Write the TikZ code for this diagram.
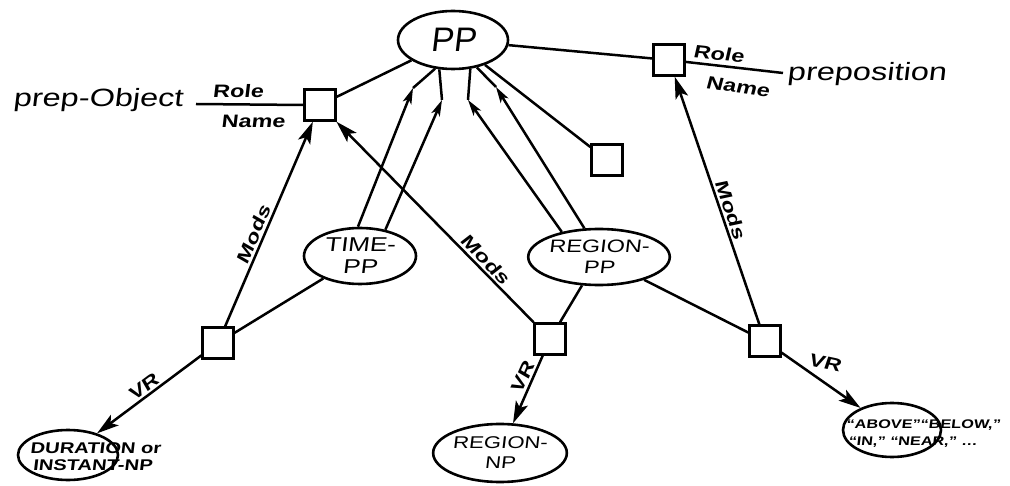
\documentclass[tikz,border=0pt]{standalone}
\usepackage{fontspec}
\newfontfamily\hand[FakeStretch=1.3,FakeSlant=0.12]{Liberation Sans}
\newfontfamily\handn[FakeSlant=0.12]{Liberation Sans}
\usetikzlibrary{arrows.meta,shapes.geometric}
\begin{document}
\begin{tikzpicture}[x=1pt,y=-1pt,
  ell/.style={ellipse, draw, line width=2.6pt, inner sep=0pt},
  box/.style={draw, line width=2.4pt, minimum size=31pt, inner sep=0pt},
  con/.style={line width=2.5pt},
  arr/.style={line width=2.5pt, -{Stealth[length=22pt,width=13pt,inset=5pt]}},
  sarr/.style={line width=2.5pt, -{Stealth[length=16pt,width=9pt,inset=4pt]}},
  lab/.style={font=\hand\bfseries\fontsize{18}{18}\selectfont, inner sep=2pt},
  big/.style={font=\hand\fontsize{25}{25}\selectfont, inner sep=0pt},
]
\useasboundingbox (0,0) rectangle (1010,486);

% concept ellipses
\node[ell, minimum width=110pt, minimum height=58pt, font=\handn\fontsize{34}{34}\selectfont] (pp) at (453,40) {PP};
\node[ell, minimum width=112pt, minimum height=56pt, align=center, font=\hand\fontsize{20}{22}\selectfont] (time) at (360,256) {TIME-\\PP};
\node[ell, minimum width=110pt, minimum height=56pt, align=center, font=\hand\fontsize{18}{21}\selectfont] (region) at (599,257) {REGION-\\PP};
\node[ell, minimum width=100pt, minimum height=50pt] (dur) at (68,455) {};
\node[font=\hand\bfseries\fontsize{15.5}{17}\selectfont, align=left, anchor=west, inner sep=0pt] (durt) at (30,457) {DURATION or\\\,INSTANT-NP};
\node[ell, minimum width=112pt, minimum height=58pt, align=center, font=\hand\fontsize{17}{20}\selectfont] (regnp) at (500,453) {REGION-\\NP};
\node[ell, minimum width=98pt, minimum height=54pt] (above) at (892,430) {};
\node[font=\hand\bfseries\fontsize{12.5}{17}\selectfont, align=left, anchor=west, inner sep=0pt] (abovet) at (846,434) {“ABOVE”“BELOW,”\\\,“IN,” “NEAR,” \dots};

% role boxes
\node[box] (b1) at (320,105) {};
\node[box] (b2) at (607,160) {};
\node[box] (b3) at (669,60) {};
\node[box] (b4) at (218,343) {};
\node[box] (b5) at (550,339) {};
\node[box] (b6) at (765,341) {};

% role names
\node[big, anchor=base east] (po) at (183,107) {prep-Object};
\node[big, anchor=base west] (prep) at (787,81) {preposition};
\coordinate (rn1) at (196,104);
\coordinate (rn3) at (783,73);
\draw[con] (b1.west) -- (rn1);
\draw[con] (b3) -- (rn3);
\node[lab, anchor=base] (role1) at (238,98) {Role};
\node[lab, anchor=base] (name1) at (253,128) {Name};
\node[lab, anchor=base, rotate=-6] (role3) at (718,60) {Role};
\node[lab, anchor=base, rotate=-8] (name3) at (737,93) {Name};

% plain links
\draw[con] (pp) -- (b1);
\draw[con] (pp) -- (b3);
\draw[con] (pp) -- (b2);
\draw[con] (time) -- (b4);
\draw[con] (region) -- (b5);
\draw[con] (region) -- (b6);

% labelled arrows
\draw[arr] (b4) -- node[lab, pos=0.43, sloped, above] (m1) {Mods} (b1);
\draw[arr] (b5) -- node[lab, pos=0.28, sloped, above] (m2) {Mods} (b1);
\draw[arr] (b6) -- node[lab, pos=0.45, sloped, above] (m3) {Mods} (b3);
\draw[arr] (b4) -- node[lab, pos=0.5, sloped, above] (v1) {VR} (dur);
\draw[arr] (b5) -- node[lab, pos=0.38, sloped, above] (v2) {VR} (regnp);
\draw[arr] (b6) -- node[lab, pos=0.28, anchor=south west, rotate=-12] (v3) {VR} (above);

% superconcept double arrows
\coordinate (tb1) at (413,88);
\coordinate (tb2) at (442,100);
\coordinate (rb1) at (468,100);
\coordinate (rb2) at (496,87);
\draw[sarr] (time.94) -- (tb1);
\draw[con] (tb1) -- (pp.238);
\draw[sarr] (time.46) -- (tb2);
\draw[con] (tb2) -- (pp.245);
\draw[sarr] (region.146) -- (rb1);
\draw[con] (rb1) -- (pp.301);
\draw[sarr] (region.117) -- (rb2);
\draw[con] (rb2) -- (pp.311);
\end{tikzpicture}
\end{document}
